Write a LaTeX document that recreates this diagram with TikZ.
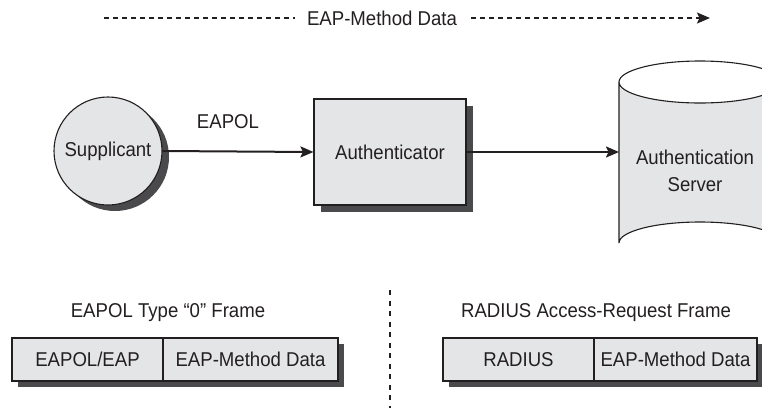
\documentclass[tikz,border=0pt]{standalone}
\usepackage{fontspec}
\setmainfont{Liberation Sans}[FakeStretch=0.93]
\usetikzlibrary{arrows.meta}
\definecolor{boxfill}{HTML}{E4E5E7}
\definecolor{shade}{HTML}{4A4A4C}
\definecolor{ink}{HTML}{231F20}
\tikzset{
  lbl/.style={font=\fontsize{20}{23}\selectfont, text=ink, inner sep=0pt},
  solidbox/.style={draw=ink, line width=1.1pt, fill=boxfill},
  shadowfill/.style={fill=shade},
  tip/.style={-{Stealth[length=13pt, width=11pt, inset=2.5pt]}},
  link/.style={draw=ink, line width=2pt, tip},
  dashlink/.style={draw=ink, line width=1.6pt, dash pattern=on 5pt off 4pt},
}
\begin{document}
\begin{tikzpicture}[x=1pt, y=-1pt]
\useasboundingbox (0,0) rectangle (762,408);

% top flow of method data
\node[lbl] (topdata) at (382,18) {EAP-Method Data};
\coordinate (tl) at (104,18);
\coordinate (tr) at (710,18);
\draw[dashlink] (tl) -- ([xshift=-12pt]topdata.west);
\draw[dashlink, tip] ([xshift=14pt]topdata.east) -- (tr);

% supplicant
\fill[shadowfill] (115,157) circle (54);
\node[circle, solidbox, minimum size=108pt, inner sep=0pt] (supp) at (108,151) {};
\node[lbl] at (supp.center) {Supplicant};

% authenticator
\fill[shadowfill] (321,106) rectangle (473,212);
\node[solidbox, minimum width=152pt, minimum height=106pt, inner sep=0pt] (auth) at (390,152) {};
\node[lbl] at (auth.center) {Authenticator};

% authentication server cylinder
\coordinate (srv) at (619,152);
\filldraw[fill=boxfill, draw=ink, line width=1.1pt]
  (619,82) -- (619,243) arc[start angle=180, end angle=360, x radius=81, y radius=21]
  -- (781,82) arc[start angle=0, end angle=180, x radius=81, y radius=21] -- cycle;
\draw[ink, line width=1.1pt] (619,82) arc[start angle=180, end angle=0, x radius=81, y radius=-21];
\node[lbl, align=center] (srvtext) at (695,171) {Authentication\\[4pt]Server};

% connectors
\node[lbl] (eapol) at (228,122) {EAPOL};
\draw[link] (supp.east) -- (auth.west);
\draw[link] (auth.east) -- (srv);

% divider
\coordinate (dvtop) at (390,290);
\coordinate (dvbot) at (390,408);
\draw[ink, line width=1.6pt, dash pattern=on 5pt off 5.5pt] (dvtop) -- (dvbot);

% EAPOL frame
\node[lbl] (f1cap) at (168,313) {EAPOL Type “0” Frame};
\fill[shadowfill] (18,344) rectangle (344,387);
\node[solidbox, minimum width=151pt, minimum height=43pt, inner sep=0pt] (f1a) at (87.5,359.5) {};
\node[solidbox, minimum width=175pt, minimum height=43pt, inner sep=0pt] (f1b) at (250.5,359.5) {};
\node[lbl] at (f1a.center) {EAPOL/EAP};
\node[lbl] at (f1b.center) {EAP-Method Data};

% RADIUS frame
\node[lbl] (f2cap) at (596,313) {RADIUS Access-Request Frame};
\fill[shadowfill] (449,344) rectangle (764,387);
\node[solidbox, minimum width=151pt, minimum height=43pt, inner sep=0pt] (f2a) at (518.5,359.5) {};
\node[solidbox, minimum width=163pt, minimum height=43pt, inner sep=0pt] (f2b) at (675.5,359.5) {};
\node[lbl] at (f2a.center) {RADIUS};
\node[lbl] at (f2b.center) {EAP-Method Data};
\end{tikzpicture}
\end{document}
